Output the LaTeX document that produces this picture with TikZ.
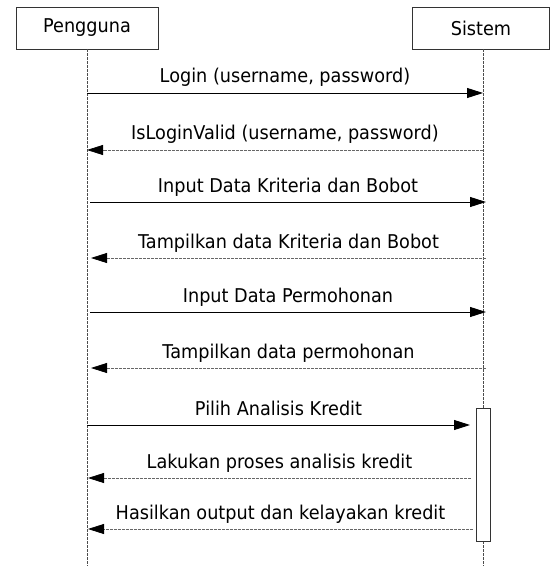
\documentclass[tikz,border=0pt]{standalone}
\usepackage{fontspec}
\setmainfont{DejaVu Sans}[FakeStretch=0.93]
\usetikzlibrary{arrows.meta}
\begin{document}
\begin{tikzpicture}[x=1pt,y=-1pt,
  actor/.style={draw=black!80, line width=0.8pt, fill=white, minimum height=42pt, inner sep=0pt, font=\fontsize{19}{21}\selectfont},
  life/.style={draw=black!70, line width=0.7pt, dash pattern=on 3pt off 1pt},
  call/.style={draw=black, line width=0.9pt, -{Triangle[length=16pt,width=10pt]}},
  reply/.style={draw=black!60, line width=0.8pt, dash pattern=on 3pt off 1pt, -{Triangle[length=16pt,width=10pt,color=black]}},
  lbl/.style={font=\fontsize{19}{21}\selectfont, inner sep=0pt, anchor=base, midway, yshift=10pt},
  act/.style={draw=black!80, line width=0.8pt, fill=white, minimum width=14pt, minimum height=133pt, inner sep=0pt}
]
\useasboundingbox (0,0) rectangle (550,572);
% participants
\node[actor, minimum width=142pt] (peng) at (87,28) {Pengguna};
\node[actor, minimum width=137pt] (sis) at (481,28) {Sistem};
% lifelines
\coordinate (pTop) at (87,49);
\coordinate (pBot) at (87,566);
\coordinate (sTop) at (483,49);
\coordinate (sBot) at (483,566);
\node[act] (actv) at (483,474.5) {};
\draw[life] (pTop) -- (pBot);
\draw[life] (sTop) -- (actv.north);
\draw[life] (actv.south) -- (sBot);
\node[act] at (actv) {};
% message end points
\coordinate (a1) at (87,93);  \coordinate (b1) at (483,93);
\coordinate (a2) at (87,150); \coordinate (b2) at (483,150);
\coordinate (a3) at (90,202); \coordinate (b3) at (486,202);
\coordinate (a4) at (91,258); \coordinate (b4) at (486,258);
\coordinate (a5) at (90,312); \coordinate (b5) at (486,312);
\coordinate (a6) at (91,368); \coordinate (b6) at (486,368);
\coordinate (a7) at (87,425); \coordinate (b7) at (470,425);
\coordinate (a8) at (88,478); \coordinate (b8) at (471,478);
\coordinate (a9) at (88,529); \coordinate (b9) at (473,529);
% messages
\draw[call]  (a1) -- (b1) node[lbl] (l1) {Login (username, password)};
\draw[reply] (b2) -- (a2) node[lbl] (l2) {IsLoginValid (username, password)};
\draw[call]  (a3) -- (b3) node[lbl] (l3) {Input Data Kriteria dan Bobot};
\draw[reply] (b4) -- (a4) node[lbl] (l4) {Tampilkan data Kriteria dan Bobot};
\draw[call]  (a5) -- (b5) node[lbl] (l5) {Input Data Permohonan};
\draw[reply] (b6) -- (a6) node[lbl] (l6) {Tampilkan data permohonan};
\draw[call]  (a7) -- (b7) node[lbl] (l7) {Pilih Analisis Kredit};
\draw[reply] (b8) -- (a8) node[lbl] (l8) {Lakukan proses analisis kredit};
\draw[reply] (b9) -- (a9) node[lbl] (l9) {Hasilkan output dan kelayakan kredit};
\end{tikzpicture}
\end{document}
